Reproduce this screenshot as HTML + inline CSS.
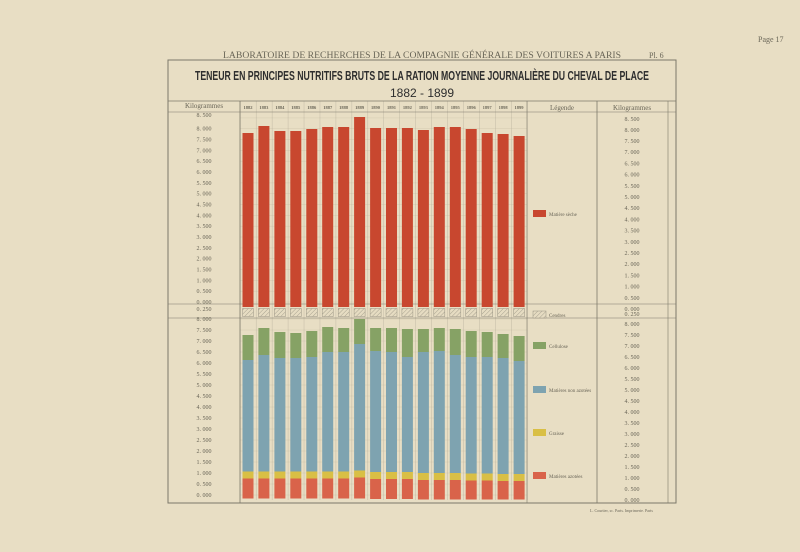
<!DOCTYPE html>
<html><head><meta charset="utf-8"><style>
html,body{margin:0;padding:0;background:#e8dec4;}
svg{display:block}
text{font-family:"Liberation Serif",serif;fill:#6a6658}
.l text{font-size:6px;text-anchor:middle}
.y text{font-size:4.5px;text-anchor:middle;font-weight:bold}
.lg text{font-size:5px}
</style></head><body>
<svg width="800" height="552" viewBox="0 0 800 552" xmlns="http://www.w3.org/2000/svg">
<defs>
<pattern id="h" width="3" height="3" patternUnits="userSpaceOnUse" patternTransform="rotate(45)">
<rect width="3" height="3" fill="#e6dcc2"/><line x1="0" y1="0" x2="0" y2="3" stroke="#9a9484" stroke-width="0.8"/>
</pattern>
<pattern id="vg" x="240" y="0" width="15.944" height="552" patternUnits="userSpaceOnUse">
<line x1="0" y1="0" x2="0" y2="552" stroke="#a8a290" stroke-width="0.6"/>
</pattern>
</defs>
<rect width="800" height="552" fill="#e8dec4"/>
<text x="758" y="42" font-size="8">Page 17</text>
<text x="223" y="58" font-size="9.5" textLength="398" lengthAdjust="spacingAndGlyphs">LABORATOIRE DE RECHERCHES DE LA COMPAGNIE GÉNÉRALE DES VOITURES A PARIS</text>
<text x="649" y="58" font-size="8">Pl. 6</text>
<rect x="168" y="60" width="508" height="443" fill="none" stroke="#7c786a" stroke-width="1"/>
<text x="195" y="80" font-size="12.5" font-weight="bold" textLength="454" lengthAdjust="spacingAndGlyphs" style="font-family:'Liberation Sans',sans-serif;fill:#2e2e2e">TENEUR EN PRINCIPES NUTRITIFS BRUTS DE LA RATION MOYENNE JOURNALIÈRE DU CHEVAL DE PLACE</text>
<text x="422" y="97" font-size="12" text-anchor="middle" style="font-family:'Liberation Sans',sans-serif;fill:#2e2e2e">1882 - 1899</text>

<g stroke="#cfc6ac" stroke-width="0.4">
<line x1="240" x2="527" y1="302" y2="302"/><line x1="240" x2="527" y1="291.2" y2="291.2"/><line x1="240" x2="527" y1="280.3" y2="280.3"/><line x1="240" x2="527" y1="269.5" y2="269.5"/><line x1="240" x2="527" y1="258.7" y2="258.7"/><line x1="240" x2="527" y1="247.9" y2="247.9"/><line x1="240" x2="527" y1="237" y2="237"/><line x1="240" x2="527" y1="226.2" y2="226.2"/><line x1="240" x2="527" y1="215.4" y2="215.4"/><line x1="240" x2="527" y1="204.5" y2="204.5"/><line x1="240" x2="527" y1="193.7" y2="193.7"/><line x1="240" x2="527" y1="182.9" y2="182.9"/><line x1="240" x2="527" y1="172" y2="172"/><line x1="240" x2="527" y1="161.2" y2="161.2"/><line x1="240" x2="527" y1="150.4" y2="150.4"/><line x1="240" x2="527" y1="139.5" y2="139.5"/><line x1="240" x2="527" y1="128.7" y2="128.7"/><line x1="240" x2="527" y1="117.9" y2="117.9"/>
<line x1="240" x2="527" y1="495" y2="495"/><line x1="240" x2="527" y1="484" y2="484"/><line x1="240" x2="527" y1="473" y2="473"/><line x1="240" x2="527" y1="462" y2="462"/><line x1="240" x2="527" y1="451" y2="451"/><line x1="240" x2="527" y1="440" y2="440"/><line x1="240" x2="527" y1="429" y2="429"/><line x1="240" x2="527" y1="418" y2="418"/><line x1="240" x2="527" y1="407" y2="407"/><line x1="240" x2="527" y1="396" y2="396"/><line x1="240" x2="527" y1="385" y2="385"/><line x1="240" x2="527" y1="374" y2="374"/><line x1="240" x2="527" y1="363" y2="363"/><line x1="240" x2="527" y1="352" y2="352"/><line x1="240" x2="527" y1="341" y2="341"/><line x1="240" x2="527" y1="330" y2="330"/><line x1="240" x2="527" y1="319" y2="319"/>
</g>
<rect x="240" y="101" width="287.5" height="399" fill="url(#vg)"/>

<g stroke="#7c786a">
<line x1="168" y1="101" x2="676" y2="101" stroke-width="0.8"/>
<line x1="168" y1="112" x2="676" y2="112" stroke-width="0.6"/>
<line x1="240" y1="101" x2="240" y2="503" stroke-width="0.8"/>
<line x1="527" y1="101" x2="527" y2="503" stroke-width="0.6"/>
<line x1="597" y1="101" x2="597" y2="503" stroke-width="0.8"/>
<line x1="668" y1="101" x2="668" y2="503" stroke-width="0.6"/>
<line x1="168" y1="304" x2="676" y2="304" stroke-width="0.6"/>
<line x1="168" y1="318" x2="676" y2="318" stroke-width="0.6"/>
</g>
<text x="204" y="108" font-size="7" text-anchor="middle">Kilogrammes</text>
<text x="562" y="110" font-size="7" text-anchor="middle">Légende</text>
<text x="632" y="110" font-size="7" text-anchor="middle">Kilogrammes</text>

<g class="y">
<text x="248" y="109">1882</text><text x="263.9" y="109">1883</text><text x="279.9" y="109">1884</text><text x="295.8" y="109">1885</text><text x="311.8" y="109">1886</text><text x="327.7" y="109">1887</text><text x="343.6" y="109">1888</text><text x="359.6" y="109">1889</text><text x="375.5" y="109">1890</text><text x="391.5" y="109">1891</text><text x="407.4" y="109">1892</text><text x="423.4" y="109">1893</text><text x="439.3" y="109">1894</text><text x="455.3" y="109">1895</text><text x="471.2" y="109">1896</text><text x="487.1" y="109">1897</text><text x="503.1" y="109">1898</text><text x="519" y="109">1899</text>
</g>

<g class="l">
<text x="204" y="304">0. 000</text><text x="204" y="293.2">0. 500</text><text x="204" y="282.3">1. 000</text><text x="204" y="271.5">1. 500</text><text x="204" y="260.7">2. 000</text><text x="204" y="249.9">2. 500</text><text x="204" y="239">3. 000</text><text x="204" y="228.2">3. 500</text><text x="204" y="217.4">4. 000</text><text x="204" y="206.5">4. 500</text><text x="204" y="195.7">5. 000</text><text x="204" y="184.9">5. 500</text><text x="204" y="174">6. 000</text><text x="204" y="163.2">6. 500</text><text x="204" y="152.4">7. 000</text><text x="204" y="141.5">7. 500</text><text x="204" y="130.7">8. 000</text><text x="204" y="117">8. 500</text>
<text x="204" y="311">0. 250</text>
<text x="204" y="497">0. 000</text><text x="204" y="486">0. 500</text><text x="204" y="475">1. 000</text><text x="204" y="464">1. 500</text><text x="204" y="453">2. 000</text><text x="204" y="442">2. 500</text><text x="204" y="431">3. 000</text><text x="204" y="420">3. 500</text><text x="204" y="409">4. 000</text><text x="204" y="398">4. 500</text><text x="204" y="387">5. 000</text><text x="204" y="376">5. 500</text><text x="204" y="365">6. 000</text><text x="204" y="354">6. 500</text><text x="204" y="343">7. 000</text><text x="204" y="332">7. 500</text><text x="204" y="321">8. 000</text>
</g>
<g class="l">
<text x="632" y="311">0. 000</text><text x="632" y="299.8">0. 500</text><text x="632" y="288.6">1. 000</text><text x="632" y="277.4">1. 500</text><text x="632" y="266.2">2. 000</text><text x="632" y="255">2. 500</text><text x="632" y="243.8">3. 000</text><text x="632" y="232.6">3. 500</text><text x="632" y="221.4">4. 000</text><text x="632" y="210.2">4. 500</text><text x="632" y="199">5. 000</text><text x="632" y="187.8">5. 500</text><text x="632" y="176.6">6. 000</text><text x="632" y="165.4">6. 500</text><text x="632" y="154.2">7. 000</text><text x="632" y="143">7. 500</text><text x="632" y="131.8">8. 000</text><text x="632" y="121">8. 500</text>
<text x="632" y="316">0. 250</text>
<text x="632" y="502">0. 000</text><text x="632" y="491">0. 500</text><text x="632" y="480">1. 000</text><text x="632" y="469">1. 500</text><text x="632" y="458">2. 000</text><text x="632" y="447">2. 500</text><text x="632" y="436">3. 000</text><text x="632" y="425">3. 500</text><text x="632" y="414">4. 000</text><text x="632" y="403">4. 500</text><text x="632" y="392">5. 000</text><text x="632" y="381">5. 500</text><text x="632" y="370">6. 000</text><text x="632" y="359">6. 500</text><text x="632" y="348">7. 000</text><text x="632" y="337">7. 500</text><text x="632" y="326">8. 000</text>
</g>

<g>
<g transform="translate(242.5,0)"><rect y="133" width="11" height="174" fill="#c8472f"/><rect y="308.5" width="11" height="8" fill="url(#h)" stroke="#9a9484" stroke-width="0.5"/><rect y="335" width="11" height="25" fill="#86a265"/><rect y="360" width="11" height="111.5" fill="#7ea3b0"/><rect y="471.5" width="11" height="7" fill="#d9bf45"/><rect y="478.5" width="11" height="20" fill="#d9634a"/></g>
<g transform="translate(258.4,0)"><rect y="126" width="11" height="181" fill="#c8472f"/><rect y="308.5" width="11" height="8" fill="url(#h)" stroke="#9a9484" stroke-width="0.5"/><rect y="328" width="11" height="27" fill="#86a265"/><rect y="355" width="11" height="116.5" fill="#7ea3b0"/><rect y="471.5" width="11" height="7" fill="#d9bf45"/><rect y="478.5" width="11" height="20" fill="#d9634a"/></g>
<g transform="translate(274.4,0)"><rect y="131" width="11" height="176" fill="#c8472f"/><rect y="308.5" width="11" height="8" fill="url(#h)" stroke="#9a9484" stroke-width="0.5"/><rect y="332" width="11" height="26" fill="#86a265"/><rect y="358" width="11" height="113.5" fill="#7ea3b0"/><rect y="471.5" width="11" height="7" fill="#d9bf45"/><rect y="478.5" width="11" height="20" fill="#d9634a"/></g>
<g transform="translate(290.3,0)"><rect y="131" width="11" height="176" fill="#c8472f"/><rect y="308.5" width="11" height="8" fill="url(#h)" stroke="#9a9484" stroke-width="0.5"/><rect y="333" width="11" height="25" fill="#86a265"/><rect y="358" width="11" height="113.5" fill="#7ea3b0"/><rect y="471.5" width="11" height="7" fill="#d9bf45"/><rect y="478.5" width="11" height="20" fill="#d9634a"/></g>
<g transform="translate(306.3,0)"><rect y="129" width="11" height="178" fill="#c8472f"/><rect y="308.5" width="11" height="8" fill="url(#h)" stroke="#9a9484" stroke-width="0.5"/><rect y="331" width="11" height="26" fill="#86a265"/><rect y="357" width="11" height="114.5" fill="#7ea3b0"/><rect y="471.5" width="11" height="7" fill="#d9bf45"/><rect y="478.5" width="11" height="20" fill="#d9634a"/></g>
<g transform="translate(322.2,0)"><rect y="127" width="11" height="180" fill="#c8472f"/><rect y="308.5" width="11" height="8" fill="url(#h)" stroke="#9a9484" stroke-width="0.5"/><rect y="327" width="11" height="25" fill="#86a265"/><rect y="352" width="11" height="119.5" fill="#7ea3b0"/><rect y="471.5" width="11" height="7" fill="#d9bf45"/><rect y="478.5" width="11" height="20" fill="#d9634a"/></g>
<g transform="translate(338.2,0)"><rect y="127" width="11" height="180" fill="#c8472f"/><rect y="308.5" width="11" height="8" fill="url(#h)" stroke="#9a9484" stroke-width="0.5"/><rect y="328" width="11" height="24" fill="#86a265"/><rect y="352" width="11" height="119.5" fill="#7ea3b0"/><rect y="471.5" width="11" height="7" fill="#d9bf45"/><rect y="478.5" width="11" height="20" fill="#d9634a"/></g>
<g transform="translate(354.1,0)"><rect y="117" width="11" height="190" fill="#c8472f"/><rect y="308.5" width="11" height="8" fill="url(#h)" stroke="#9a9484" stroke-width="0.5"/><rect y="319" width="11" height="25" fill="#86a265"/><rect y="344" width="11" height="126.5" fill="#7ea3b0"/><rect y="470.5" width="11" height="7" fill="#d9bf45"/><rect y="477.5" width="11" height="21" fill="#d9634a"/></g>
<g transform="translate(370.1,0)"><rect y="128" width="11" height="179" fill="#c8472f"/><rect y="308.5" width="11" height="8" fill="url(#h)" stroke="#9a9484" stroke-width="0.5"/><rect y="328" width="11" height="23" fill="#86a265"/><rect y="351" width="11" height="121" fill="#7ea3b0"/><rect y="472" width="11" height="7" fill="#d9bf45"/><rect y="479" width="11" height="20" fill="#d9634a"/></g>
<g transform="translate(386,0)"><rect y="128" width="11" height="179" fill="#c8472f"/><rect y="308.5" width="11" height="8" fill="url(#h)" stroke="#9a9484" stroke-width="0.5"/><rect y="328" width="11" height="24" fill="#86a265"/><rect y="352" width="11" height="120" fill="#7ea3b0"/><rect y="472" width="11" height="7" fill="#d9bf45"/><rect y="479" width="11" height="20" fill="#d9634a"/></g>
<g transform="translate(401.9,0)"><rect y="128" width="11" height="179" fill="#c8472f"/><rect y="308.5" width="11" height="8" fill="url(#h)" stroke="#9a9484" stroke-width="0.5"/><rect y="329" width="11" height="28" fill="#86a265"/><rect y="357" width="11" height="115" fill="#7ea3b0"/><rect y="472" width="11" height="7" fill="#d9bf45"/><rect y="479" width="11" height="20" fill="#d9634a"/></g>
<g transform="translate(417.9,0)"><rect y="130" width="11" height="177" fill="#c8472f"/><rect y="308.5" width="11" height="8" fill="url(#h)" stroke="#9a9484" stroke-width="0.5"/><rect y="329" width="11" height="23" fill="#86a265"/><rect y="352" width="11" height="121" fill="#7ea3b0"/><rect y="473" width="11" height="7" fill="#d9bf45"/><rect y="480" width="11" height="19.5" fill="#d9634a"/></g>
<g transform="translate(433.8,0)"><rect y="127" width="11" height="180" fill="#c8472f"/><rect y="308.5" width="11" height="8" fill="url(#h)" stroke="#9a9484" stroke-width="0.5"/><rect y="328" width="11" height="23" fill="#86a265"/><rect y="351" width="11" height="122" fill="#7ea3b0"/><rect y="473" width="11" height="7" fill="#d9bf45"/><rect y="480" width="11" height="19.5" fill="#d9634a"/></g>
<g transform="translate(449.8,0)"><rect y="127" width="11" height="180" fill="#c8472f"/><rect y="308.5" width="11" height="8" fill="url(#h)" stroke="#9a9484" stroke-width="0.5"/><rect y="329" width="11" height="26" fill="#86a265"/><rect y="355" width="11" height="118" fill="#7ea3b0"/><rect y="473" width="11" height="7" fill="#d9bf45"/><rect y="480" width="11" height="19.5" fill="#d9634a"/></g>
<g transform="translate(465.7,0)"><rect y="129" width="11" height="178" fill="#c8472f"/><rect y="308.5" width="11" height="8" fill="url(#h)" stroke="#9a9484" stroke-width="0.5"/><rect y="331" width="11" height="26" fill="#86a265"/><rect y="357" width="11" height="116.5" fill="#7ea3b0"/><rect y="473.5" width="11" height="7" fill="#d9bf45"/><rect y="480.5" width="11" height="19" fill="#d9634a"/></g>
<g transform="translate(481.7,0)"><rect y="133" width="11" height="174" fill="#c8472f"/><rect y="308.5" width="11" height="8" fill="url(#h)" stroke="#9a9484" stroke-width="0.5"/><rect y="332" width="11" height="25" fill="#86a265"/><rect y="357" width="11" height="116.5" fill="#7ea3b0"/><rect y="473.5" width="11" height="7" fill="#d9bf45"/><rect y="480.5" width="11" height="19" fill="#d9634a"/></g>
<g transform="translate(497.6,0)"><rect y="134" width="11" height="173" fill="#c8472f"/><rect y="308.5" width="11" height="8" fill="url(#h)" stroke="#9a9484" stroke-width="0.5"/><rect y="334" width="11" height="24" fill="#86a265"/><rect y="358" width="11" height="116" fill="#7ea3b0"/><rect y="474" width="11" height="7" fill="#d9bf45"/><rect y="481" width="11" height="18.5" fill="#d9634a"/></g>
<g transform="translate(513.6,0)"><rect y="136" width="11" height="171" fill="#c8472f"/><rect y="308.5" width="11" height="8" fill="url(#h)" stroke="#9a9484" stroke-width="0.5"/><rect y="336" width="11" height="25" fill="#86a265"/><rect y="361" width="11" height="113" fill="#7ea3b0"/><rect y="474" width="11" height="7" fill="#d9bf45"/><rect y="481" width="11" height="18.5" fill="#d9634a"/></g>
</g>

<g class="lg">
<rect x="533" y="210" width="13" height="7" fill="#c8472f"/><text x="549" y="216">Matière sèche</text>
<rect x="533" y="311" width="13" height="7" fill="url(#h)" stroke="#9a9484" stroke-width="0.5"/><text x="549" y="317">Cendres</text>
<rect x="533" y="342" width="13" height="7" fill="#86a265"/><text x="549" y="348">Cellulose</text>
<rect x="533" y="386" width="13" height="7" fill="#7ea3b0"/><text x="549" y="392">Matières non azotées</text>
<rect x="533" y="429" width="13" height="7" fill="#d9bf45"/><text x="549" y="435">Graisse</text>
<rect x="533" y="472" width="13" height="7" fill="#d9634a"/><text x="549" y="478">Matières azotées</text>
</g>
<text x="590" y="512" font-size="4">L. Courtier, sc. Paris. Imprimerie. Paris</text>
</svg>
</body></html>
